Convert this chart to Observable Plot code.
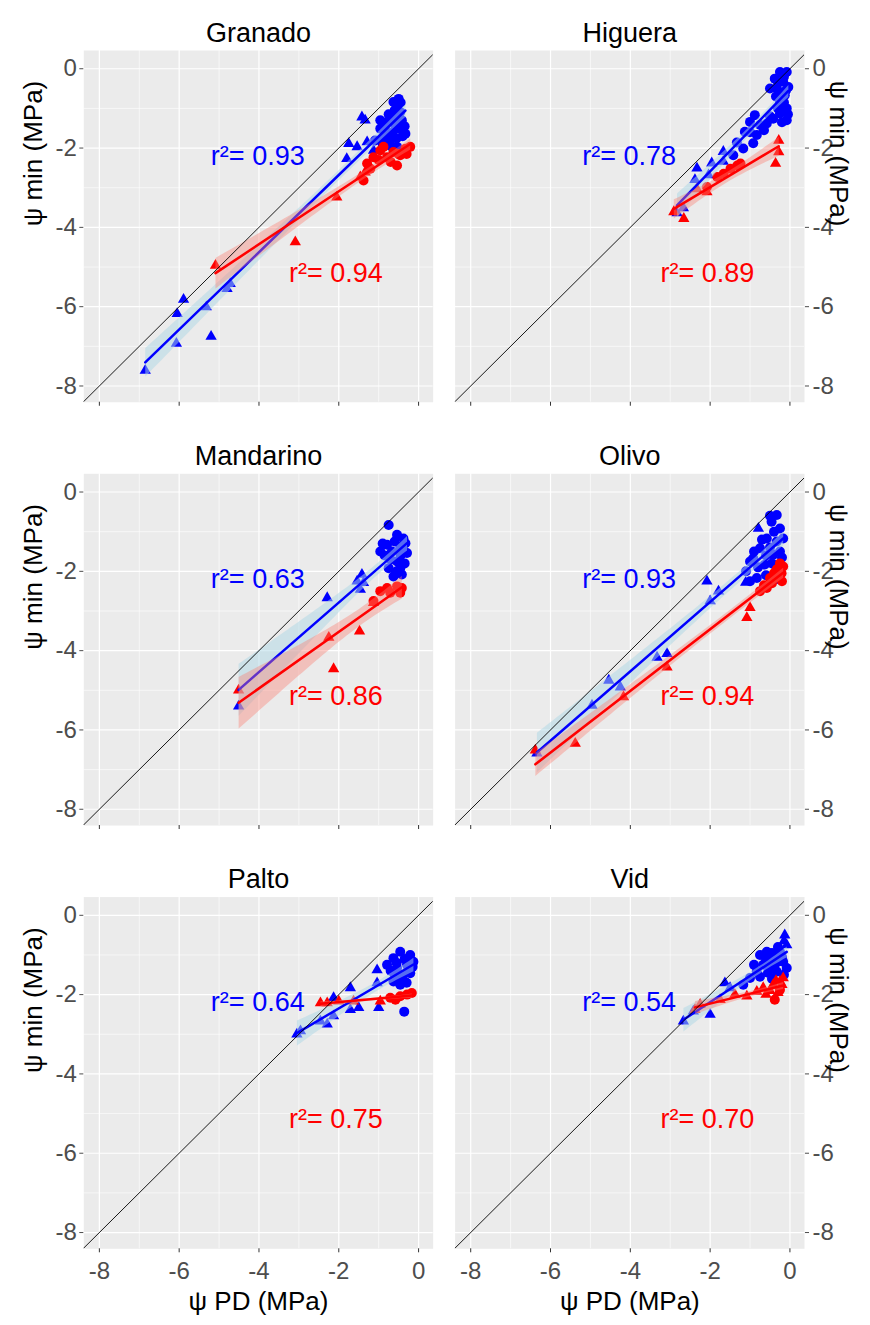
<!DOCTYPE html>
<html><head><meta charset="utf-8">
<script src="https://cdn.jsdelivr.net/npm/d3@7"></script>
<script src="https://cdn.jsdelivr.net/npm/@observablehq/plot@0.6"></script>
<style>body{margin:0;background:#fff;}</style>
</head><body><div id="chart"></div>
<script>
// ---- data (x = ψ PD, y = ψ min, shape: c = circle, t = triangle) ----
const species = ["Granado", "Higuera", "Mandarino", "Olivo", "Palto", "Vid"];
const r2Blue = ["0.93", "0.78", "0.63", "0.93", "0.64", "0.54"];
const r2Red = ["0.94", "0.89", "0.86", "0.94", "0.75", "0.70"];
const majorTicks = [-8, -6, -4, -2, 0];
const minorTicks = [-7, -5, -3, -1];
const identityLine = [-9, 1];
const blueLabelAt = [-4.03, -2.2];
const redLabelAt = [-2.07, -5.15];

const granadoBlue = [
  [-6.85,-7.61,"t"],[-6.05,-6.18,"t"],[-5.89,-5.82,"t"],[-6.07,-6.93,"t"],[-5.20,-6.75,"t"],
  [-5.32,-6.01,"t"],[-4.80,-5.55,"t"],[-4.72,-5.42,"t"],[-1.80,-2.27,"t"],[-1.75,-1.89,"t"],
  [-1.54,-1.97,"t"],[-1.34,-1.30,"t"],[-1.42,-1.22,"t"],[-1.29,-1.85,"t"],[-1.13,-2.06,"t"],
  [-0.50,-0.76,"c"],[-0.54,-0.97,"c"],[-0.63,-0.84,"c"],[-0.67,-1.22,"c"],[-0.79,-1.34,"c"],
  [-0.58,-1.43,"c"],[-0.46,-1.51,"c"],[-0.96,-1.51,"c"],[-0.88,-1.72,"c"],[-0.71,-1.81,"c"],
  [-0.42,-1.30,"c"],[-0.96,-1.30,"c"],[-0.46,-1.09,"c"],[-1.09,-1.81,"c"],[-0.33,-1.64,"c"],
  [-0.54,-1.97,"c"],[-0.45,-0.85,"c"],[-0.60,-1.05,"c"],[-0.75,-1.15,"c"],[-0.85,-1.45,"c"],
  [-0.65,-1.60,"c"],[-0.55,-1.75,"c"],[-0.40,-1.70,"c"],[-0.70,-1.95,"c"],[-0.90,-1.90,"c"],
  [-0.35,-1.45,"c"],[-0.50,-1.25,"c"],[-0.80,-1.60,"c"]
];
const granadoRed = [
  [-5.09,-4.96,"t"],[-3.09,-4.37,"t"],[-2.05,-3.24,"t"],[-1.46,-2.73,"t"],[-1.34,-2.61,"t"],
  [-0.21,-1.97,"c"],[-0.33,-2.02,"c"],[-0.54,-2.44,"c"],[-0.63,-2.10,"c"],[-0.96,-2.06,"c"],
  [-1.29,-2.39,"c"],[-1.13,-2.23,"c"],[-0.46,-2.18,"c"],[-0.79,-2.23,"c"],[-1.21,-2.52,"c"],
  [-0.88,-1.97,"c"],[-1.38,-2.82,"c"],[-0.50,-2.15,"c"],[-0.70,-2.35,"c"],[-0.30,-2.15,"c"],
  [-1.00,-2.30,"c"]
];
const higueraBlue = [
  [-0.25,-0.08,"c"],[-0.08,-0.08,"c"],[-0.38,-0.25,"c"],[-0.17,-0.33,"c"],[-0.04,-0.46,"c"],
  [-0.33,-0.50,"c"],[-0.50,-0.50,"c"],[-0.13,-0.67,"c"],[-0.25,-0.84,"c"],[-0.08,-1.00,"c"],
  [-0.25,-1.13,"c"],[-0.42,-1.26,"c"],[-0.08,-1.30,"c"],[-0.88,-1.17,"c"],[-1.00,-1.34,"c"],
  [-0.75,-1.42,"c"],[-0.58,-1.38,"c"],[-0.83,-1.67,"c"],[-0.92,-1.88,"c"],[-1.13,-1.59,"c"],
  [-1.33,-1.86,"c"],[-1.17,-2.01,"c"],[-1.42,-2.18,"c"],[-0.15,-0.20,"c"],[-0.30,-0.35,"c"],
  [-0.10,-0.55,"c"],[-0.20,-0.60,"c"],[-0.35,-0.70,"c"],[-0.15,-0.85,"c"],[-0.30,-1.00,"c"],
  [-0.05,-1.15,"c"],[-0.20,-1.35,"c"],[-0.50,-1.20,"c"],[-0.65,-1.55,"c"],[-1.00,-1.60,"c"],
  [-1.67,-2.09,"t"],[-1.96,-2.38,"t"],[-2.33,-2.51,"t"],[-2.38,-2.80,"t"],[-1.67,-2.34,"t"],
  [-2.04,-2.68,"t"],[-2.67,-3.51,"t"],[-2.83,-3.64,"t"]
];
const higueraRed = [
  [-0.28,-1.81,"t"],[-0.28,-2.10,"t"],[-0.36,-2.39,"t"],[-2.33,-3.03,"t"],[-2.91,-3.61,"t"],
  [-2.66,-3.78,"t"],[-2.08,-3.11,"t"],
  [-1.49,-2.52,"c"],[-1.32,-2.44,"c"],[-1.82,-2.73,"c"],[-1.66,-2.65,"c"],[-2.08,-2.98,"c"],
  [-1.24,-2.39,"c"]
];
const mandarinoBlue = [
  [-0.75,-0.83,"c"],[-0.54,-1.08,"c"],[-0.38,-1.17,"c"],[-0.79,-1.33,"c"],[-0.96,-1.50,"c"],
  [-0.67,-1.50,"c"],[-0.46,-1.42,"c"],[-0.29,-1.54,"c"],[-0.54,-1.75,"c"],[-0.75,-1.92,"c"],
  [-0.46,-1.92,"c"],[-0.63,-2.13,"c"],[-0.42,-2.08,"c"],[-0.33,-1.29,"c"],[-0.60,-1.25,"c"],
  [-0.45,-1.60,"c"],[-0.70,-1.70,"c"],[-0.85,-1.60,"c"],[-0.35,-1.80,"c"],[-0.55,-2.00,"c"],
  [-0.90,-1.30,"c"],[-0.40,-1.35,"c"],
  [-1.42,-2.08,"t"],[-1.54,-2.25,"t"],[-1.38,-2.29,"t"],[-1.46,-2.46,"t"],[-2.29,-2.67,"t"],
  [-4.51,-5.40,"t"]
];
const mandarinoRed = [
  [-4.51,-5.00,"t"],[-2.13,-4.46,"t"],[-1.48,-3.51,"t"],[-2.25,-3.67,"t"],[-1.13,-2.79,"t"],
  [-0.96,-2.50,"c"],[-0.54,-2.38,"c"],[-0.46,-2.54,"c"],[-0.71,-2.54,"c"],[-1.13,-2.75,"c"],
  [-0.79,-2.42,"c"],[-0.42,-2.42,"c"]
];
const olivoBlue = [
  [-0.33,-0.58,"c"],[-0.46,-0.75,"c"],[-0.25,-0.92,"c"],[-0.58,-1.17,"c"],[-0.33,-1.25,"c"],
  [-0.75,-1.42,"c"],[-0.42,-1.58,"c"],[-0.92,-1.67,"c"],[-0.63,-1.83,"c"],[-0.33,-1.92,"c"],
  [-0.25,-1.50,"c"],[-1.00,-1.75,"c"],[-0.83,-2.17,"c"],[-1.00,-2.25,"c"],[-0.17,-1.17,"c"],
  [-0.50,-0.60,"c"],[-0.40,-1.00,"c"],[-0.70,-1.20,"c"],[-0.50,-1.40,"c"],[-0.90,-1.50,"c"],
  [-0.60,-1.60,"c"],[-0.45,-1.80,"c"],[-0.80,-1.90,"c"],[-1.10,-2.00,"c"],[-0.60,-2.10,"c"],
  [-0.35,-2.20,"c"],[-0.20,-1.65,"c"],[-0.25,-2.05,"c"],
  [-0.79,-0.92,"t"],[-2.08,-2.25,"t"],[-1.79,-2.50,"t"],[-2.00,-2.75,"t"],[-1.11,-2.28,"t"],
  [-3.08,-4.08,"t"],[-3.33,-4.17,"t"],[-4.54,-4.75,"t"],[-4.25,-4.92,"t"],[-4.96,-5.38,"t"],
  [-6.34,-6.59,"t"]
];
const olivoRed = [
  [-0.25,-1.80,"c"],[-0.33,-1.95,"c"],[-0.21,-2.05,"c"],[-0.50,-2.17,"c"],[-0.58,-2.42,"c"],
  [-0.75,-2.50,"c"],[-0.17,-1.88,"c"],[-0.30,-2.15,"c"],[-0.45,-2.30,"c"],[-0.20,-2.25,"c"],
  [-0.65,-2.35,"c"],[-0.40,-2.05,"c"],
  [-1.00,-2.92,"t"],[-1.08,-3.17,"t"],[-3.08,-4.42,"t"],[-4.17,-5.17,"t"],[-5.38,-6.34,"t"],
  [-6.38,-6.51,"t"]
];
const paltoBlue = [
  [-0.46,-0.92,"c"],[-0.21,-1.00,"c"],[-0.63,-1.08,"c"],[-0.29,-1.25,"c"],[-0.13,-1.17,"c"],
  [-0.54,-1.33,"c"],[-0.38,-1.50,"c"],[-0.79,-1.25,"c"],[-0.21,-1.46,"c"],[-0.63,-1.67,"c"],
  [-0.46,-1.75,"c"],[-0.36,-2.43,"c"],[-0.35,-1.10,"c"],[-0.55,-1.20,"c"],[-0.25,-1.35,"c"],
  [-0.70,-1.40,"c"],[-0.45,-1.60,"c"],[-0.30,-1.70,"c"],[-0.60,-1.50,"c"],[-0.15,-1.30,"c"],
  [-1.04,-1.38,"t"],[-1.04,-1.71,"t"],[-1.71,-1.83,"t"],[-1.50,-2.33,"t"],[-1.71,-2.38,"t"],
  [-1.00,-2.33,"t"],[-2.13,-2.08,"t"],[-2.13,-2.54,"t"],[-2.29,-2.75,"t"],[-2.46,-2.67,"t"],
  [-2.96,-2.92,"t"],[-3.05,-3.00,"t"]
];
const paltoRed = [
  [-2.29,-2.21,"t"],[-2.00,-2.17,"t"],[-1.63,-2.17,"t"],[-0.96,-2.17,"t"],[-2.46,-2.21,"t"],
  [-0.71,-2.08,"c"],[-0.29,-2.00,"c"],[-0.17,-1.96,"c"],[-0.46,-2.04,"c"],[-0.58,-2.13,"c"]
];
const vidBlue = [
  [-0.25,-0.92,"c"],[-0.58,-0.92,"c"],[-0.75,-1.00,"c"],[-0.42,-1.08,"c"],[-0.17,-1.17,"c"],
  [-0.67,-1.25,"c"],[-0.83,-1.42,"c"],[-0.33,-1.42,"c"],[-1.00,-1.58,"c"],[-1.17,-1.75,"c"],
  [-0.50,-1.33,"c"],[-0.08,-1.33,"c"],[-0.30,-0.80,"c"],[-0.45,-0.95,"c"],[-0.20,-1.05,"c"],
  [-0.60,-1.10,"c"],[-0.35,-1.20,"c"],[-0.90,-1.25,"c"],[-0.55,-1.45,"c"],[-0.75,-1.55,"c"],
  [-0.15,-1.50,"c"],[-0.45,-1.60,"c"],
  [-0.13,-0.50,"t"],[-0.08,-0.75,"t"],[-0.15,-0.65,"t"],[-1.63,-1.71,"t"],[-2.00,-2.50,"t"],
  [-2.42,-2.42,"t"],[-2.67,-2.67,"t"],[-1.50,-1.83,"t"]
];
const vidRed = [
  [-0.25,-1.67,"t"],[-0.42,-1.75,"t"],[-0.67,-1.83,"t"],[-0.17,-1.58,"t"],[-0.83,-1.92,"t"],
  [-0.20,-1.75,"t"],[-0.50,-1.90,"t"],[-0.35,-1.65,"t"],[-0.60,-2.00,"t"],[-0.30,-1.95,"t"],
  [-0.25,-1.88,"c"],[-0.38,-2.13,"c"],
  [-1.08,-2.04,"t"],[-1.38,-2.00,"t"],[-1.75,-2.13,"t"],[-2.25,-2.25,"t"],[-2.38,-2.38,"t"]
];

const blueSets = [granadoBlue, higueraBlue, mandarinoBlue, olivoBlue, paltoBlue, vidBlue];
const redSets = [granadoRed, higueraRed, mandarinoRed, olivoRed, paltoRed, vidRed];

// ---- build tables ----
const BLUE = "#0000FF", RED = "#FF0000";
const pts = [];
const panels = [];
const labels = [];
species.forEach((name, i) => {
  const col = i % 2, row = Math.floor(i / 2);
  panels.push({name, col, row});
  blueSets[i].forEach(([x, y, sh]) => pts.push({x, y, sh, g: "blue", col, row}));
  redSets[i].forEach(([x, y, sh]) => pts.push({x, y, sh, g: "red", col, row}));
  labels.push({col, row, x: blueLabelAt[0], y: blueLabelAt[1], text: "r²= " + r2Blue[i], color: BLUE});
  labels.push({col, row, x: redLabelAt[0], y: redLabelAt[1], text: "r²= " + r2Red[i], color: RED});
});
const bluePts = pts.filter(d => d.g === "blue");
const redPts = pts.filter(d => d.g === "red");
const fmt = d => String(d);
const F = {fx: "col", fy: "row"};

const chart = Plot.plot({
  width: 870,
  height: 1325,
  marginTop: 50,
  marginBottom: 76.7,
  marginLeft: 83.3,
  marginRight: 66,
  style: {fontFamily: "'Liberation Sans', Arial, sans-serif", background: "#fff"},
  fx: {domain: [0, 1], paddingInner: 0.0592, paddingOuter: 0, round: false, axis: null},
  fy: {domain: [0, 1, 2], paddingInner: 0.169, paddingOuter: 0, round: false, axis: null},
  x: {domain: [-8.39, 0.365]},
  y: {domain: [-8.41, 0.46]},
  marks: [
    Plot.frame({fill: "#EBEBEB", stroke: null}),
    Plot.gridX(minorTicks, {stroke: "#fff", strokeOpacity: 1, strokeWidth: 0.6}),
    Plot.gridY(minorTicks, {stroke: "#fff", strokeOpacity: 1, strokeWidth: 0.6}),
    Plot.gridX(majorTicks, {stroke: "#fff", strokeOpacity: 1, strokeWidth: 1.2}),
    Plot.gridY(majorTicks, {stroke: "#fff", strokeOpacity: 1, strokeWidth: 1.2}),
    // points
    Plot.dot(bluePts.filter(d => d.sh === "c"), {...F, x: "x", y: "y", r: 5, fill: BLUE, symbol: "circle"}),
    Plot.dot(bluePts.filter(d => d.sh === "t"), {...F, x: "x", y: "y", r: 4.2, fill: BLUE, symbol: "triangle"}),
    Plot.dot(redPts.filter(d => d.sh === "c"), {...F, x: "x", y: "y", r: 5, fill: RED, symbol: "circle"}),
    Plot.dot(redPts.filter(d => d.sh === "t"), {...F, x: "x", y: "y", r: 4.2, fill: RED, symbol: "triangle"}),
    // regressions with 95% band
    Plot.linearRegressionY(bluePts, {...F, x: "x", y: "y", stroke: BLUE, strokeWidth: 2.5, fill: "lightblue", fillOpacity: 0.5}),
    Plot.linearRegressionY(redPts, {...F, x: "x", y: "y", stroke: RED, strokeWidth: 2.5, fill: "#FA8072", fillOpacity: 0.4}),
    // 1:1 line
    Plot.line(identityLine, {x: d => d, y: d => d, stroke: "#000", strokeWidth: 0.9, clip: true}),
    // r² annotations
    Plot.text(labels, {...F, x: "x", y: "y", text: "text", fill: "color", fontSize: 27}),
    // axes
    Plot.axisX({ticks: majorTicks, tickSize: 4, tickFormat: () => "", facetAnchor: null, label: null, color: "#333"}),
    Plot.axisX({ticks: majorTicks, tickSize: 0, tickPadding: 13, tickFormat: fmt, fontSize: 24, label: null, color: "#4D4D4D"}),
    Plot.axisY({anchor: "left", ticks: majorTicks, tickSize: 4, tickPadding: 3, tickFormat: fmt, fontSize: 24, label: null, color: "#4D4D4D"}),
    Plot.axisY({anchor: "right", ticks: majorTicks, tickSize: 4, tickPadding: 4, tickFormat: fmt, fontSize: 24, label: null, color: "#4D4D4D"}),
    // titles
    Plot.text(panels, {...F, text: "name", frameAnchor: "top", dy: -28, fontSize: 27, fill: "#000"}),
    Plot.text(panels.filter(d => d.col === 0), {...F, text: () => "ψ min (MPa)", frameAnchor: "left", dx: -50, rotate: -90, fontSize: 26, fill: "#000"}),
    Plot.text(panels.filter(d => d.col === 1), {...F, text: () => "ψ min (MPa)", frameAnchor: "right", dx: 34, rotate: 90, fontSize: 26, fill: "#000"}),
    Plot.text(panels.filter(d => d.row === 2), {...F, text: () => "ψ PD (MPa)", frameAnchor: "bottom", dy: 61, fontSize: 26, fill: "#000"})
  ]
});
document.getElementById("chart").appendChild(chart);
</script>
</body></html>
